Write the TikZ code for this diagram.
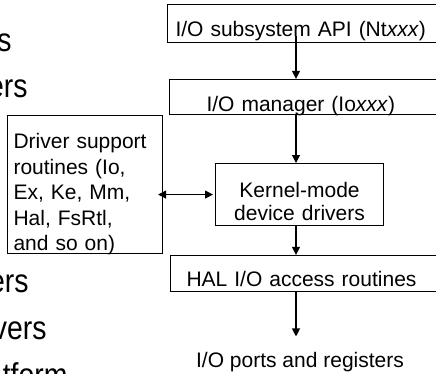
\documentclass[tikz,border=0pt]{standalone}
\usepackage{fontspec}
\setmainfont{Liberation Sans}
\newfontfamily\slidefont[FakeStretch=0.86]{Liberation Sans}
\usetikzlibrary{arrows.meta}

\begin{document}
\begin{tikzpicture}[x=1pt, y=-1pt, >={Triangle[width=8pt,length=8pt]}, line width=1.1pt]
\tikzset{ layer/.style={draw, anchor=south west, inner ysep=0pt, text width=300pt,
                        align=left, font=\fontsize{21}{25}\selectfont},
          block/.style={draw, anchor=north west, inner ysep=0pt},
          slide/.style={anchor=base east, inner sep=0pt, font=\slidefont\fontsize{33}{40}\selectfont} };

\useasboundingbox (0,0) rectangle (436,373);
\clip (0,0) rectangle (436,373);

\node[slide] (t1) at (12,51)  {s};
\node[slide] (t2) at (28,97)  {ers};
\node[slide] (t3) at (29,292) {ers};
\node[slide] (t4) at (47,339) {vers};
\node[slide] (t5) at (68,386) {tform};

\node[layer, inner xsep=8pt,  text height=32pt, text depth=6pt] (api) at (167,43)  {I/O subsystem API (Nt\textit{xxx})};
\node[layer, inner xsep=37pt, text height=32pt, text depth=3pt] (mgr) at (169,115) {I/O manager (Io\textit{xxx})};
\node[layer, inner xsep=16pt, text height=31pt, text depth=5pt] (hal) at (170,292) {HAL I/O access routines};

\node[block, inner xsep=6pt, text width=143pt, align=left, text height=33pt, text depth=105pt,
      font=\fontsize{21}{25.5}\selectfont] (drv) at (7,115)
      {Driver support\\routines (Io,\\Ex, Ke, Mm,\\Hal, FsRtl,\\and so on)};
\node[block, inner xsep=4pt, text width=160pt, align=center, text height=34pt, text depth=28pt,
      font=\fontsize{21}{22.6}\selectfont] (kern) at (215,163)
      {Kernel-mode\\device drivers};

\node[anchor=base, inner ysep=15pt, text height=15pt, text depth=4.5pt,
      font=\fontsize{21}{25}\selectfont] (ports) at (300,367) {I/O ports and registers};

\coordinate (spine) at (296,0);

\draw[->] (spine |- api.base) -- (spine |- mgr.north);
\draw[->] (spine |- mgr.south) -- (spine |- kern.north);
\draw[->] (spine |- kern.south) -- (spine |- hal.north);
\draw[->] (spine |- hal.south) -- (spine |- ports.north);
\draw[<->] ([xshift=-5pt]drv.east |- kern.west) -- ([xshift=-2pt]kern.west);

\end{tikzpicture}
\end{document}
